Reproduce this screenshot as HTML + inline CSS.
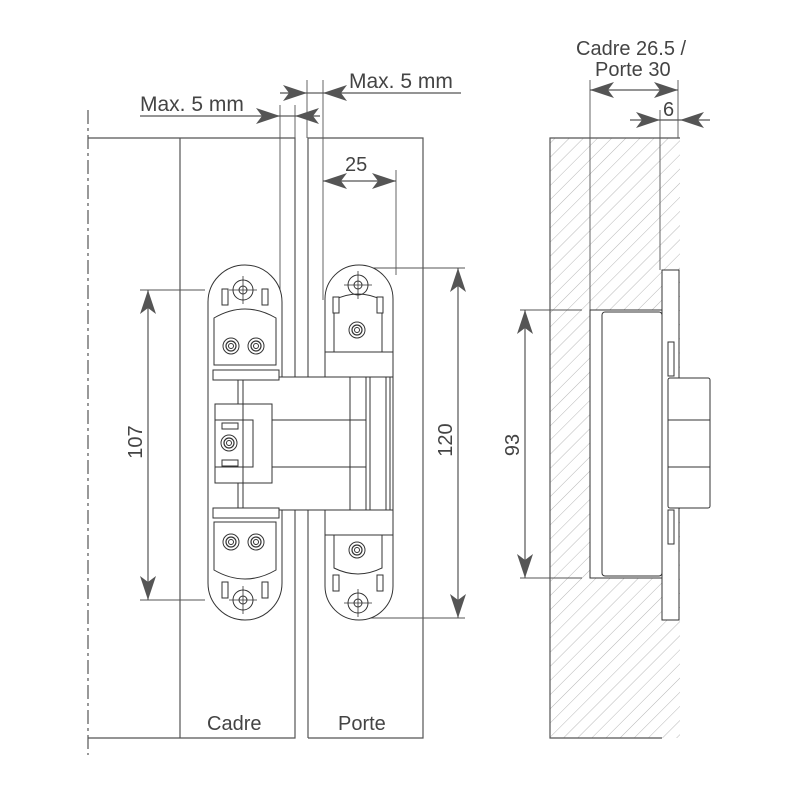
<!DOCTYPE html>
<html><head><meta charset="utf-8"><style>
html,body{margin:0;padding:0;background:#fff;}
svg{display:block}
text{font-family:"Liberation Sans",sans-serif;fill:#444;font-size:20px}
</style></head><body>
<svg width="800" height="800" viewBox="0 0 800 800" xmlns="http://www.w3.org/2000/svg">
<defs>
<pattern id="h" width="10" height="10" patternUnits="userSpaceOnUse" patternTransform="rotate(45)">
<line x1="0" y1="0" x2="0" y2="10" stroke="#999" stroke-width="0.7"/>
</pattern>
<marker id="a" viewBox="0 0 24 16" refX="24" refY="8" markerWidth="24" markerHeight="16" markerUnits="userSpaceOnUse" orient="auto-start-reverse">
<path d="M0,0 L24,8 L0,16 L6,8 Z" fill="#555"/>
</marker>
<g id="hole">
<circle r="10" fill="none" stroke="#333" stroke-width="1"/>
<circle r="4" fill="none" stroke="#333" stroke-width="1"/>
<line x1="-14" y1="0" x2="14" y2="0" stroke="#333" stroke-width="0.8"/>
<line x1="0" y1="-14" x2="0" y2="14" stroke="#333" stroke-width="0.8"/>
</g>
<g id="screw">
<circle r="8" fill="none" stroke="#333" stroke-width="1"/>
<circle r="5" fill="none" stroke="#333" stroke-width="1.2"/>
<circle r="2.5" fill="none" stroke="#333" stroke-width="1"/>
</g>
</defs>
<g stroke="#555" stroke-width="1.2" fill="none">
<line x1="88" y1="110" x2="88" y2="755" stroke-dasharray="14,4,3,4"/>
<polyline points="88,138 295,138 295,738 88,738"/>
<line x1="180" y1="138" x2="180" y2="738"/>
<polyline points="308,738 308,138 423,138 423,738 308,738"/>
<line x1="280" y1="105" x2="280" y2="300" stroke-width="0.9"/>
<line x1="323" y1="80" x2="323" y2="300" stroke-width="0.9"/>
<line x1="307" y1="80" x2="307" y2="138" stroke-width="0.9"/>
<line x1="295" y1="105" x2="295" y2="138" stroke-width="0.9"/>
<line x1="140" y1="116" x2="280" y2="116" marker-end="url(#a)"/>
<line x1="280" y1="116" x2="295" y2="116"/>
<line x1="320" y1="116" x2="295" y2="116" marker-end="url(#a)"/>
<line x1="280" y1="93" x2="307" y2="93" marker-end="url(#a)"/>
<line x1="307" y1="93" x2="323" y2="93"/>
<line x1="461" y1="93" x2="323" y2="93" marker-end="url(#a)"/>
<line x1="396" y1="170" x2="396" y2="275" stroke-width="0.9"/>
<line x1="323" y1="181" x2="396" y2="181" marker-start="url(#a)" marker-end="url(#a)"/>
<line x1="140" y1="290" x2="205" y2="290" stroke-width="0.9"/>
<line x1="140" y1="600" x2="205" y2="600" stroke-width="0.9"/>
<line x1="148" y1="290" x2="148" y2="600" marker-start="url(#a)" marker-end="url(#a)"/>
<line x1="370" y1="268" x2="465" y2="268" stroke-width="0.9"/>
<line x1="370" y1="618" x2="465" y2="618" stroke-width="0.9"/>
<line x1="458" y1="268" x2="458" y2="618" marker-start="url(#a)" marker-end="url(#a)"/>
</g>
<g stroke="#333" stroke-width="1" fill="#fff">
<rect x="208" y="265" width="74" height="355" rx="37"/>
<rect x="325" y="265" width="68" height="355" rx="34"/>
<rect x="238" y="377" width="128" height="133"/>
<rect x="366" y="377" width="24" height="133"/>
<line x1="370" y1="377" x2="370" y2="510"/>
<line x1="386" y1="377" x2="386" y2="510"/>
<rect x="253" y="420" width="113" height="47"/>
<rect x="215" y="404" width="57" height="79"/>
<rect x="215" y="420" width="38" height="47"/>
<line x1="243" y1="377" x2="243" y2="510"/>
<line x1="350" y1="377" x2="350" y2="510"/>
<path d="M214,365 L214,318 Q245,300 276,318 L276,365 Z"/>
<path d="M214,522 L214,570 Q245,588 276,570 L276,522 Z"/>
<path d="M334,352 L334,300 Q358,288 382,300 L382,352 Z"/>
<path d="M334,515 L334,568 Q358,580 382,568 L382,515 Z"/>
<rect x="325" y="352" width="68" height="25"/>
<rect x="325" y="510" width="68" height="25"/>
<rect x="213" y="370" width="66" height="10"/>
<rect x="213" y="508" width="66" height="10"/>
<rect x="222" y="289" width="6" height="16"/><rect x="262" y="289" width="6" height="16"/>
<rect x="222" y="582" width="6" height="16"/><rect x="262" y="582" width="6" height="16"/>
<rect x="333" y="297" width="6" height="16"/><rect x="377" y="297" width="6" height="16"/>
<rect x="333" y="575" width="6" height="16"/><rect x="377" y="575" width="6" height="16"/>
<rect x="222" y="423" width="16" height="6"/><rect x="222" y="460" width="16" height="6"/>
</g>
<use href="#hole" x="243" y="290"/>
<use href="#hole" x="243" y="600"/>
<use href="#hole" x="358" y="285"/>
<use href="#hole" x="358" y="603"/>
<use href="#screw" x="231" y="346"/><use href="#screw" x="256" y="346"/>
<use href="#screw" x="231" y="542"/><use href="#screw" x="256" y="542"/>
<use href="#screw" x="357" y="330"/><use href="#screw" x="357" y="550"/>
<use href="#screw" x="229" y="443"/>
<rect x="550" y="138" width="130" height="600" fill="url(#h)" stroke="none"/>
<g stroke="#555" stroke-width="1.2" fill="none">
<polyline points="662,138 550,138 550,738 662,738"/>
<line x1="662" y1="138" x2="680" y2="138"/>
<line x1="590" y1="80" x2="590" y2="310" stroke-width="0.9"/>
<line x1="678" y1="80" x2="678" y2="138" stroke-width="0.9"/>
<line x1="660" y1="110" x2="660" y2="270" stroke-width="0.9"/>
<line x1="590" y1="90" x2="678" y2="90" marker-start="url(#a)" marker-end="url(#a)"/>
<line x1="630" y1="120" x2="660" y2="120" marker-end="url(#a)"/>
<line x1="660" y1="120" x2="680" y2="120"/>
<line x1="710" y1="120" x2="680" y2="120" marker-end="url(#a)"/>
<line x1="520" y1="310" x2="582" y2="310" stroke-width="0.9"/>
<line x1="520" y1="578" x2="582" y2="578" stroke-width="0.9"/>
<line x1="525" y1="310" x2="525" y2="578" marker-start="url(#a)" marker-end="url(#a)"/>
</g>
<g stroke="#333" stroke-width="1" fill="#fff">
<rect x="590" y="310" width="72" height="268"/>
<rect x="602" y="312" width="60" height="264" rx="3"/>
<rect x="662" y="270" width="17" height="350"/>
<rect x="668" y="378" width="42" height="130" rx="2"/>
<line x1="668" y1="420" x2="710" y2="420"/><line x1="668" y1="467" x2="710" y2="467"/>
<rect x="668" y="342" width="6" height="34"/><rect x="668" y="510" width="6" height="34"/>
</g>
<g>
<text x="140" y="111" style="font-size:21px">Max. 5 mm</text>
<text x="349" y="88" style="font-size:21px">Max. 5 mm</text>
<text x="345" y="171">25</text>
<text x="576" y="55">Cadre 26.5 /</text>
<text x="595" y="76">Porte 30</text>
<text x="663" y="116">6</text>
<text x="207" y="730">Cadre</text>
<text x="338" y="730">Porte</text>
<text transform="translate(142,442) rotate(-90)" text-anchor="middle">107</text>
<text transform="translate(452,440) rotate(-90)" text-anchor="middle">120</text>
<text transform="translate(519,445) rotate(-90)" text-anchor="middle">93</text>
</g>
</svg>
</body></html>
